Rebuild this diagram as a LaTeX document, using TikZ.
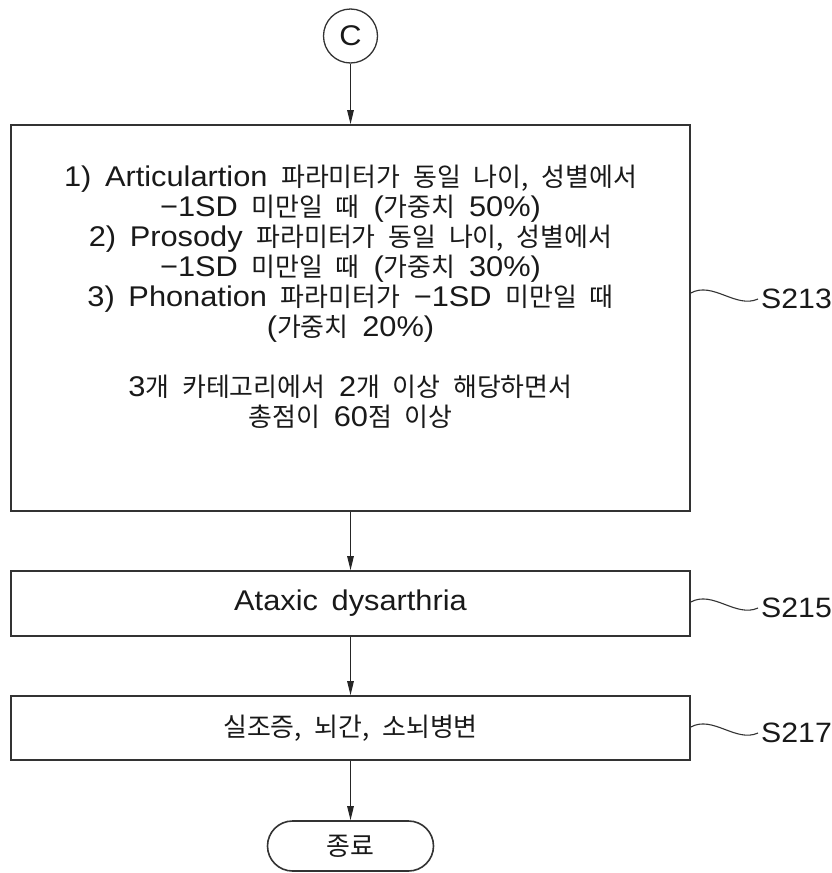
\documentclass[tikz,border=0pt]{standalone}
\usepackage{fontspec}
\setmainfont{Liberation Sans}[WordSpace=1.6, FakeStretch=1.08]
\newfontfamily\krfont{Noto Sans CJK KR}[Scale=0.91, WordSpace=2.2]
\newcommand{\kr}[1]{{\krfont #1}}
\usetikzlibrary{arrows.meta, shapes.misc, calc}

\begin{document}
\begin{tikzpicture}[x=1pt, y=-1pt,
	box/.style={draw=black!80, line width=1.6pt, rectangle, inner sep=0pt, minimum width=679pt},
	txt/.style={align=center, text=black!90, inner sep=0pt, font=\fontsize{28.5}{30}\selectfont},
	arr/.style={draw=black!85, line width=1.3pt, -{Triangle[length=14pt, width=6.5pt]}},
	wave/.style={draw=black!80, line width=1.1pt},
	lbl/.style={anchor=west, inner sep=3pt, text=black!90, font=\fontsize{28}{29}\selectfont}]
	\useasboundingbox (0, 0) rectangle (832, 873);
	% Steps and texts:
	\node[draw=black!80, line width=1.3pt, circle, minimum size=54pt, inner sep=0pt, txt] (c) at (350.5, 36){C};
	\node[box, minimum height=386pt] (s213) at (350.5, 318){};
	\node[txt] (s213txt) at (350.5, 297){1) Articulartion \kr{파라미터가 동일 나이, 성별에서}\\
		−1SD \kr{미만일 때} (\kr{가중치} 50\%)\\
		2) Prosody \kr{파라미터가 동일 나이, 성별에서}\\
		−1SD \kr{미만일 때} (\kr{가중치} 30\%)\\
		3) Phonation \kr{파라미터가} −1SD \kr{미만일 때}\\
		(\kr{가중치} 20\%)\\[30pt]
		3\kr{개 카테고리에서} 2\kr{개 이상 해당하면서}\\
		\kr{총점이} 60\kr{점 이상}};
	\node[box, minimum height=65pt, txt] (s215) at (350.5, 603.5){Ataxic dysarthria};
	\node[box, minimum height=64pt, txt] (s217) at (350.5, 728){\kr{실조증, 뇌간, 소뇌병변}};
	\node[draw=black!80, line width=1.6pt, rounded rectangle, minimum width=166pt, minimum height=50pt, txt] (end) at (350.5, 846){\kr{종료}};
	% Arrows:
	\draw[arr] (c) -- (s213);
	\draw[arr] (s213) -- (s215);
	\draw[arr] (s215) -- (s217);
	\draw[arr] (s217) -- (end);
	% Step numbers:
	\node[lbl] (l213) at (758, 299){S213};
	\node[lbl] (l215) at (758, 608){S215};
	\node[lbl] (l217) at (758, 733){S217};
	\foreach \s in {213, 215, 217}
		\draw[wave] ($(s\s.east |- l\s.west)+(0,-6)$) .. controls +(22,-12) and +(-22,10) .. (l\s.west);
\end{tikzpicture}
\end{document}
